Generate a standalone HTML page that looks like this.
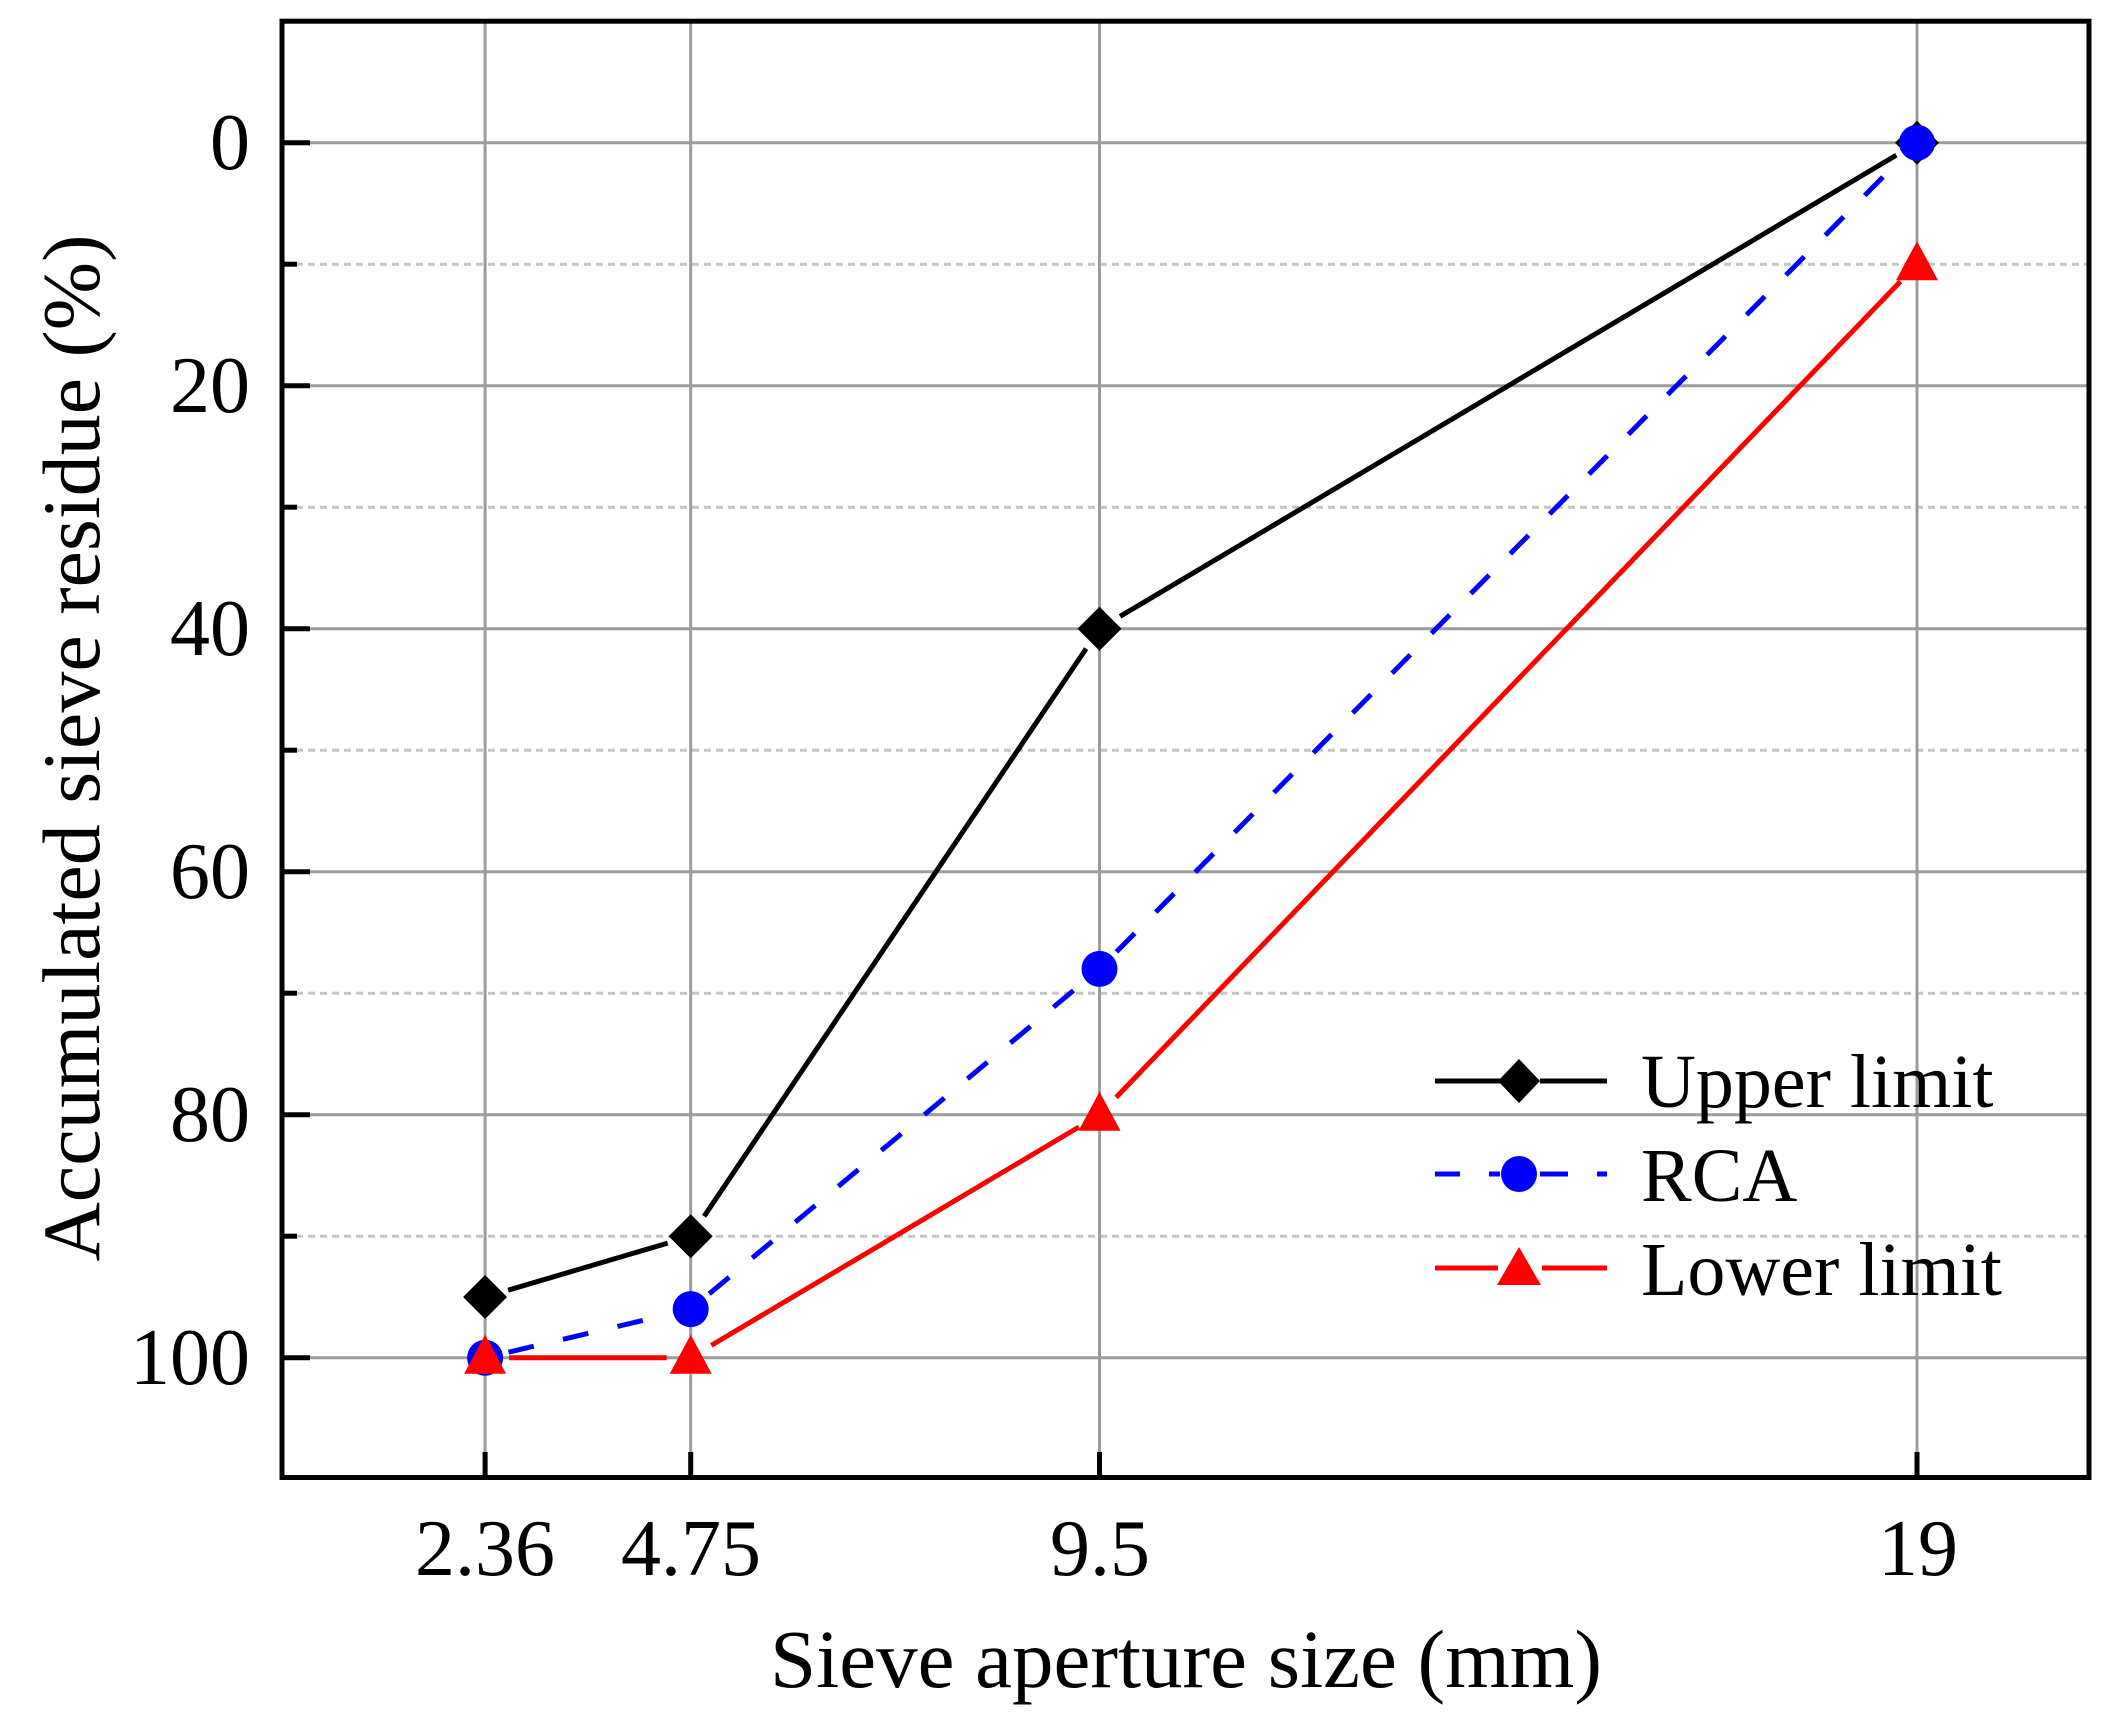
<!DOCTYPE html>
<html>
<head>
<meta charset="utf-8">
<style>
html,body{margin:0;padding:0;background:#fff;}
svg{display:block;}
text{font-family:"Liberation Serif","Times New Roman",serif;fill:#000;}
</style>
</head>
<body>
<svg width="2118" height="1722" viewBox="0 0 2118 1722" xmlns="http://www.w3.org/2000/svg">
<rect x="0" y="0" width="2118" height="1722" fill="#fff"/>

<!-- minor dotted gridlines -->
<g stroke="#c4c4c4" stroke-width="3" stroke-dasharray="7 5">
<line x1="284" y1="264.2" x2="2087" y2="264.2"/>
<line x1="284" y1="507.2" x2="2087" y2="507.2"/>
<line x1="284" y1="750.2" x2="2087" y2="750.2"/>
<line x1="284" y1="993.2" x2="2087" y2="993.2"/>
<line x1="284" y1="1236.2" x2="2087" y2="1236.2"/>
</g>
<!-- major gridlines -->
<g stroke="#9c9c9c" stroke-width="3">
<line x1="284" y1="142.7" x2="2087" y2="142.7"/>
<line x1="284" y1="385.7" x2="2087" y2="385.7"/>
<line x1="284" y1="628.7" x2="2087" y2="628.7"/>
<line x1="284" y1="871.7" x2="2087" y2="871.7"/>
<line x1="284" y1="1114.7" x2="2087" y2="1114.7"/>
<line x1="284" y1="1357.7" x2="2087" y2="1357.7"/>
<line x1="485.1" y1="23" x2="485.1" y2="1476"/>
<line x1="690.7" y1="23" x2="690.7" y2="1476"/>
<line x1="1099.5" y1="23" x2="1099.5" y2="1476"/>
<line x1="1917" y1="23" x2="1917" y2="1476"/>
</g>

<!-- axes box -->
<rect x="282" y="21.2" width="1807" height="1456.3" fill="none" stroke="#000" stroke-width="5"/>
<!-- y ticks -->
<g stroke="#000" stroke-width="5">
<line x1="282" y1="142.7" x2="310" y2="142.7"/>
<line x1="282" y1="385.7" x2="310" y2="385.7"/>
<line x1="282" y1="628.7" x2="310" y2="628.7"/>
<line x1="282" y1="871.7" x2="310" y2="871.7"/>
<line x1="282" y1="1114.7" x2="310" y2="1114.7"/>
<line x1="282" y1="1357.7" x2="310" y2="1357.7"/>
<line x1="282" y1="264.2" x2="297" y2="264.2"/>
<line x1="282" y1="507.2" x2="297" y2="507.2"/>
<line x1="282" y1="750.2" x2="297" y2="750.2"/>
<line x1="282" y1="993.2" x2="297" y2="993.2"/>
<line x1="282" y1="1236.2" x2="297" y2="1236.2"/>
<!-- x ticks -->
<line x1="485.1" y1="1477.5" x2="485.1" y2="1452"/>
<line x1="690.7" y1="1477.5" x2="690.7" y2="1452"/>
<line x1="1099.5" y1="1477.5" x2="1099.5" y2="1452"/>
<line x1="1917" y1="1477.5" x2="1917" y2="1452"/>
</g>

<!-- y tick labels -->
<g font-size="80" text-anchor="end">
<text x="250" y="169">0</text>
<text x="250" y="412">20</text>
<text x="250" y="655">40</text>
<text x="250" y="898">60</text>
<text x="250" y="1141">80</text>
<text x="250" y="1384">100</text>
</g>
<!-- x tick labels -->
<g font-size="80" text-anchor="middle">
<text x="485" y="1575">2.36</text>
<text x="691" y="1575">4.75</text>
<text x="1100" y="1575">9.5</text>
<text x="1918" y="1575">19</text>
</g>
<!-- axis titles -->
<text x="1186" y="1687" font-size="83" text-anchor="middle">Sieve aperture size (mm)</text>
<text transform="translate(99,748) rotate(-90)" font-size="82" text-anchor="middle">Accumulated sieve residue (%)</text>

<!-- Upper limit -->
<g stroke="#000" stroke-width="5" fill="none" stroke-linecap="butt">
<line x1="508.1" y1="1290.2" x2="667.7" y2="1243.1"/>
<line x1="704.1" y1="1216.3" x2="1086.1" y2="648.6"/>
<line x1="1120.1" y1="616.4" x2="1896.4" y2="155.1"/>
</g>
<g fill="#000">
<polygon points="485.1,1275 507.1,1297 485.1,1319 463.1,1297"/>
<polygon points="690.7,1214.2 712.7,1236.2 690.7,1258.2 668.7,1236.2"/>
<polygon points="1099.5,606.7 1121.5,628.7 1099.5,650.7 1077.5,628.7"/>
<polygon points="1917,120.7 1939,142.7 1917,164.7 1895,142.7"/>
</g>

<!-- RCA -->
<g stroke="#0000ff" stroke-width="5" fill="none" stroke-dasharray="26 30">
<line x1="508.5" y1="1352.2" x2="667.3" y2="1314.6"/>
<line x1="709.2" y1="1293.8" x2="1081" y2="984.2"/>
<line x1="1116.4" y1="951.9" x2="1900.1" y2="159.7"/>
</g>
<g fill="#0000ff">
<circle cx="485.1" cy="1357.7" r="18"/>
<circle cx="690.7" cy="1309.1" r="18"/>
<circle cx="1099.5" cy="968.9" r="18"/>
<circle cx="1917" cy="142.7" r="18"/>
</g>

<!-- Lower limit -->
<g stroke="#ff0000" stroke-width="5" fill="none">
<line x1="509.1" y1="1357.7" x2="666.7" y2="1357.7"/>
<line x1="711.3" y1="1345.4" x2="1078.9" y2="1127"/>
<line x1="1116.1" y1="1097.4" x2="1900.4" y2="281.5"/>
</g>
<g fill="#ff0000">
<polygon points="485.1,1334.7 506.1,1373.7 464.1,1373.7"/>
<polygon points="690.7,1334.7 711.7,1373.7 669.7,1373.7"/>
<polygon points="1099.5,1091.7 1120.5,1130.7 1078.5,1130.7"/>
<polygon points="1917,241.2 1938,280.2 1896,280.2"/>
</g>

<!-- Legend -->
<g stroke-width="5" fill="none">
<line x1="1435" y1="1081" x2="1500" y2="1081" stroke="#000"/>
<line x1="1540" y1="1081" x2="1607" y2="1081" stroke="#000"/>
<line x1="1435" y1="1174" x2="1460" y2="1174" stroke="#0000ff"/>
<line x1="1489" y1="1174" x2="1500" y2="1174" stroke="#0000ff"/>
<line x1="1540" y1="1174" x2="1568" y2="1174" stroke="#0000ff"/>
<line x1="1597" y1="1174" x2="1607" y2="1174" stroke="#0000ff"/>
<line x1="1435" y1="1268" x2="1498" y2="1268" stroke="#ff0000"/>
<line x1="1542" y1="1268" x2="1607" y2="1268" stroke="#ff0000"/>
</g>
<polygon points="1519,1059 1540,1081 1519,1103 1498,1081" fill="#000"/>
<circle cx="1519" cy="1174" r="18" fill="#0000ff"/>
<polygon points="1519,1247 1541,1285 1497,1285" fill="#ff0000"/>
<g font-size="76">
<text x="1641" y="1107">Upper limit</text>
<text x="1641" y="1201">RCA</text>
<text x="1641" y="1295">Lower limit</text>
</g>
</svg>
</body>
</html>
